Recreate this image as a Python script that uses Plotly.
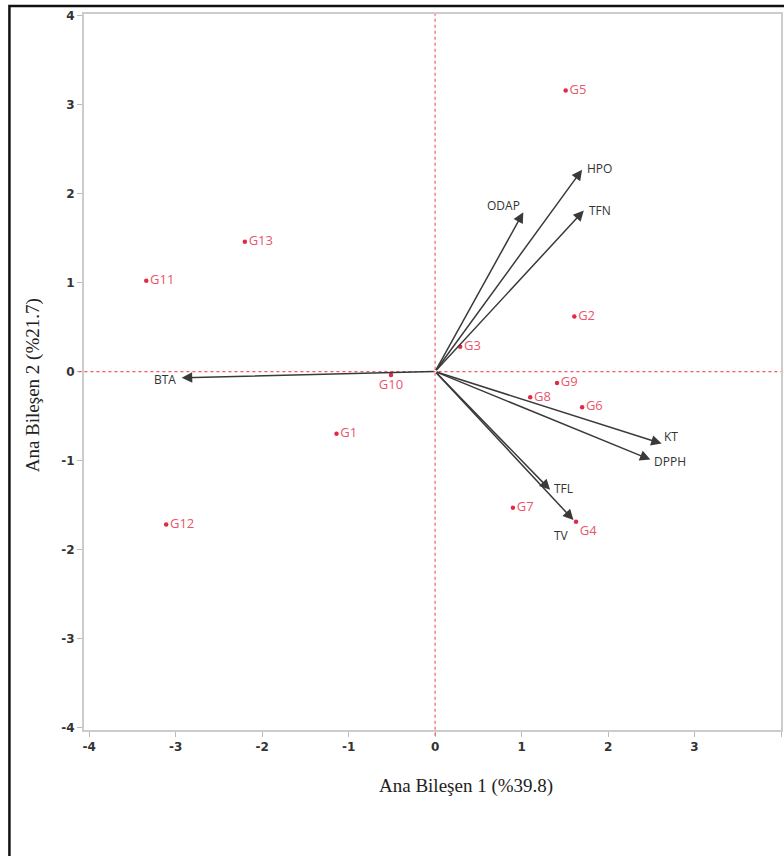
import plotly.graph_objects as go

# Genotype scores (PC1, PC2)
genotypes = ["G1", "G2", "G3", "G4", "G5", "G6", "G7", "G8", "G9", "G10", "G11", "G12", "G13"]
pc1_scores = [-1.14, 1.61, 0.29, 1.63, 1.51, 1.70, 0.90, 1.10, 1.41, -0.51, -3.34, -3.11, -2.20]
pc2_scores = [-0.70, 0.62, 0.28, -1.69, 3.16, -0.40, -1.53, -0.29, -0.13, -0.04, 1.02, -1.72, 1.46]

# Variable loadings (arrow tips)
variables = ["HPO", "TFN", "ODAP", "BTA", "KT", "DPPH", "TFL", "TV"]
pc1_load = [1.70, 1.72, 1.02, -2.93, 2.62, 2.49, 1.33, 1.60]
pc2_load = [2.27, 1.81, 1.79, -0.07, -0.81, -0.99, -1.33, -1.67]

x_ticks = [-4, -3, -2, -1, 0, 1, 2, 3, 4]
y_ticks = [-4, -3, -2, -1, 0, 1, 2, 3, 4]

RED = "#e02a48"
RED_TXT = "#e8566c"

text_pos = ["middle right"] * len(genotypes)
text_pos[genotypes.index("G10")] = "bottom center"
text_pos[genotypes.index("G4")] = "bottom right"

fig = go.Figure()
fig.add_trace(go.Scatter(
    x=pc1_scores, y=pc2_scores, mode="markers+text",
    text=genotypes, textposition=text_pos,
    marker=dict(color=RED, size=4.5),
    textfont=dict(family="Open Sans", size=13, color=RED_TXT),
    showlegend=False, hoverinfo="text", cliponaxis=False,
))

# label placement for variable arrows: (xanchor, xshift, yshift)
lab_style = {
    "HPO": ("left", 3, 1),
    "TFN": ("left", 3, 0),
    "ODAP": ("right", -1, 7),
    "BTA": ("right", -4, -2),
    "KT": ("left", 0, 7),
    "DPPH": ("left", 2, -2),
    "TFL": ("left", 2, 1),
    "TV": ("right", -2, -15),
}

annotations = []
for name, vx, vy in zip(variables, pc1_load, pc2_load):
    annotations.append(dict(
        x=vx, y=vy, ax=0, ay=0, xref="x", yref="y", axref="x", ayref="y",
        text="", showarrow=True, arrowhead=2, arrowsize=1.4, arrowwidth=1.5,
        arrowcolor="#3a3a3a",
    ))
    xa, xs, ys = lab_style[name]
    annotations.append(dict(
        x=vx, y=vy, xref="x", yref="y", text=name, showarrow=False,
        xanchor=xa, yanchor="middle", xshift=xs, yshift=ys,
        font=dict(family="Open Sans", size=12, color="#333333"),
    ))

annotations.append(dict(
    x=0.548, y=-0.078, xref="paper", yref="paper", text="Ana Bileşen 1 (%39.8)",
    showarrow=False, xanchor="center", yanchor="middle",
    font=dict(family="Liberation Serif", size=19, color="#222222"),
))
annotations.append(dict(
    x=-0.074, y=0.482, xref="paper", yref="paper", text="Ana Bileşen 2 (%21.7)",
    showarrow=False, xanchor="center", yanchor="middle", textangle=-90,
    font=dict(family="Liberation Serif", size=19, color="#222222"),
))

ZERO_COL = "#ee5a6a"
shapes = [
    # zero reference lines
    dict(type="line", xref="x", yref="paper", x0=0, x1=0, y0=-0.008, y1=1,
         line=dict(color=ZERO_COL, width=1.2, dash="dot")),
    dict(type="line", xref="paper", yref="y", x0=-0.008, x1=1, y0=0, y1=0,
         line=dict(color=ZERO_COL, width=1.2, dash="dot")),
    # outer frame
    dict(type="rect", xref="paper", yref="paper", x0=-0.107, x1=1.3, y0=-0.4, y1=1.0112,
         line=dict(color="#111111", width=2.5), layer="above"),
]

fig.update_layout(
    width=784, height=856,
    margin=dict(l=84, r=1, t=14, b=126),
    paper_bgcolor="white", plot_bgcolor="white",
    showlegend=False,
    annotations=annotations, shapes=shapes,
    xaxis=dict(range=[-4.06, 4.0], tickvals=x_ticks, ticktext=[str(t) for t in x_ticks],
               showgrid=False, zeroline=False, showline=True, linecolor="#cccccc", linewidth=2,
               ticks="outside", ticklen=5, tickcolor="#bbbbbb",
               tickfont=dict(family="DejaVu Sans", size=12, color="#333333", weight="bold"),
               mirror=True),
    yaxis=dict(range=[-4.03, 4.02], tickvals=y_ticks, ticktext=[str(t) for t in y_ticks],
               showgrid=False, zeroline=False, showline=True, linecolor="#cccccc", linewidth=2,
               ticks="outside", ticklen=5, tickcolor="#bbbbbb",
               tickfont=dict(family="DejaVu Sans", size=12, color="#333333", weight="bold"),
               mirror=True),
)

fig.write_html(
    "out.html",
    config={"displayModeBar": False},
    post_script="document.body.style.margin='0px';document.body.style.overflow='hidden';",
)
